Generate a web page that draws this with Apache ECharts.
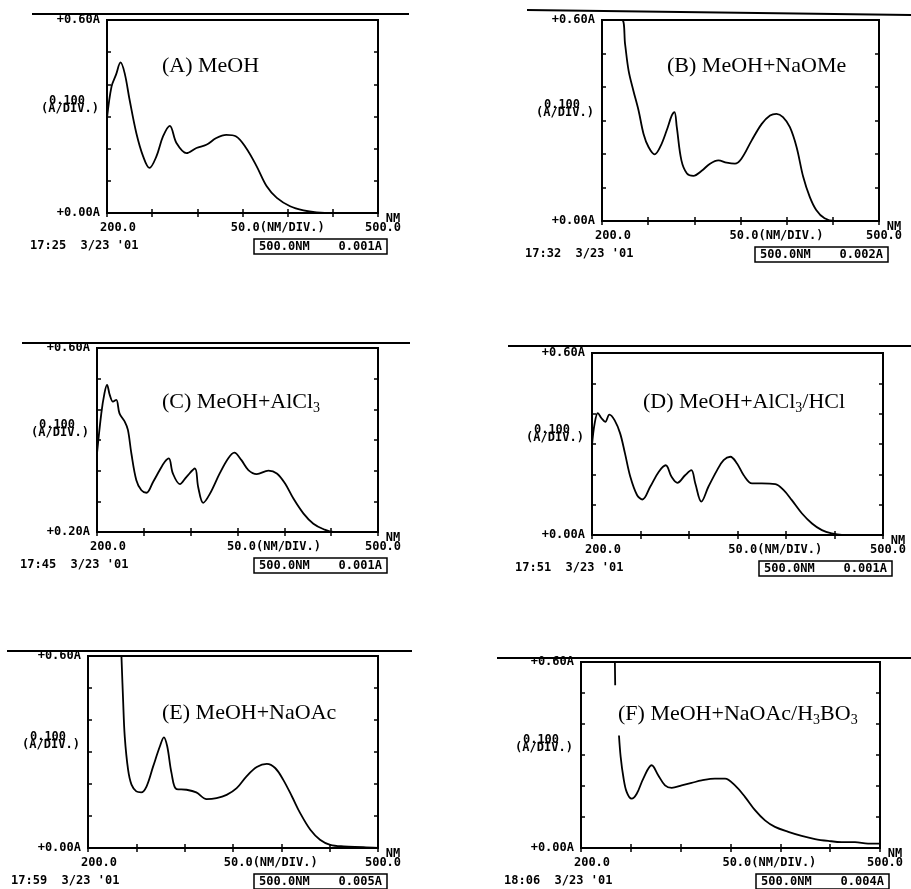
<!DOCTYPE html>
<html>
<head>
<meta charset="utf-8">
<script src="https://cdn.jsdelivr.net/npm/echarts@6/dist/echarts.min.js"></script>
<style>
  html, body { margin: 0; padding: 0; background: #fff; }
  #main { width: 911px; height: 889px; }
</style>
</head>
<body>
<div id="main"></div>
<script>
// wavelength (nm) / absorbance (A)
var wlA = [200, 205, 210, 215, 219.6, 225, 232.5, 240, 247, 254.7, 262, 269.5, 277, 288, 299, 310, 321, 332, 343, 354, 365.7, 376.8, 388, 402.7, 417.5, 432, 451, 500]
var absA = [0.295, 0.393, 0.43, 0.468, 0.434, 0.352, 0.248, 0.176, 0.14, 0.176, 0.238, 0.271, 0.217, 0.186, 0.202, 0.212, 0.233, 0.243, 0.238, 0.202, 0.145, 0.083, 0.047, 0.021, 0.008, 0.002, 0, 0]

var wlB = [200, 221.6, 225, 228.8, 234, 239.6, 245, 250.4, 257, 263, 270, 275.6, 278.5, 281, 286, 292, 299, 308, 317, 326, 335, 344, 351, 362, 373, 382, 389, 396, 403.5, 410.7, 417.9, 425, 432, 441, 452, 500]
var absB = [0.6, 0.6, 0.528, 0.449, 0.389, 0.33, 0.26, 0.221, 0.199, 0.221, 0.27, 0.315, 0.325, 0.28, 0.181, 0.142, 0.135, 0.15, 0.171, 0.181, 0.174, 0.171, 0.186, 0.24, 0.29, 0.315, 0.32, 0.31, 0.28, 0.221, 0.132, 0.072, 0.033, 0.008, 0, 0]

var wlC = [200, 204.6, 208, 210.7, 213.6, 217, 220.6, 224, 229.6, 233, 236.7, 242, 247.4, 252.8, 260, 267, 272.4, 276.7, 281, 288.5, 295.6, 304.5, 308, 313.4, 320.6, 331, 340, 346.6, 354, 361.6, 370.5, 383, 392, 400.8, 409.7, 420.5, 431, 442, 452.6, 500]
var absC = [0.256, 0.387, 0.453, 0.48, 0.447, 0.425, 0.431, 0.387, 0.36, 0.333, 0.256, 0.169, 0.136, 0.128, 0.164, 0.202, 0.229, 0.24, 0.191, 0.156, 0.18, 0.207, 0.147, 0.095, 0.125, 0.191, 0.24, 0.259, 0.235, 0.202, 0.189, 0.2, 0.191, 0.158, 0.109, 0.06, 0.027, 0.009, 0, 0]

var wlD = [200, 202.7, 206, 210, 213.7, 217.9, 223.4, 229, 234, 239.5, 246.4, 252, 260, 268.7, 276, 282, 288, 296, 302.4, 306.5, 312.7, 320, 329, 335.7, 342.6, 349.5, 356.4, 365, 375, 389, 397.6, 406, 416.5, 426.8, 437, 447, 457.7, 500]
var absD = [0.296, 0.367, 0.402, 0.384, 0.373, 0.397, 0.378, 0.335, 0.269, 0.192, 0.132, 0.117, 0.159, 0.208, 0.23, 0.192, 0.172, 0.197, 0.214, 0.17, 0.11, 0.159, 0.214, 0.247, 0.258, 0.236, 0.197, 0.17, 0.17, 0.168, 0.148, 0.115, 0.071, 0.038, 0.016, 0.005, 0, 0]

var wlE = [234.6, 236.3, 238, 241.5, 245, 250, 255, 260.5, 267.4, 274.3, 278.5, 282, 286.4, 291.6, 302, 312, 322.7, 333, 343.4, 353.8, 364, 374.6, 385, 393.6, 402, 411, 419.5, 430, 440, 450.6, 464.4, 485, 500]
var absE = [0.6, 0.463, 0.349, 0.244, 0.198, 0.177, 0.174, 0.192, 0.255, 0.317, 0.346, 0.317, 0.234, 0.184, 0.182, 0.174, 0.153, 0.156, 0.166, 0.187, 0.224, 0.253, 0.263, 0.25, 0.213, 0.161, 0.109, 0.057, 0.026, 0.01, 0.005, 0.003, 0]

var wlF = [234, 234.3, 236, 238.1, 239.8, 242.5, 245.8, 250.8, 255.9, 262.5, 270.9, 277.6, 284.3, 291, 301, 311, 321, 334.4, 344.5, 354.5, 364.5, 374.6, 384.6, 394.6, 408, 421.4, 434.8, 448, 461.5, 474.9, 488, 500]
var absF = [0.6, 0.525, null, 0.363, 0.294, 0.229, 0.181, 0.159, 0.175, 0.224, 0.267, 0.234, 0.202, 0.194, 0.202, 0.21, 0.218, 0.224, 0.224, 0.202, 0.165, 0.122, 0.089, 0.068, 0.052, 0.039, 0.029, 0.023, 0.019, 0.019, 0.014, 0.014]

// labels
var titles = ['(A) MeOH', '(B) MeOH+NaOMe', '(C) MeOH+AlCl{sub|3}', '(D) MeOH+AlCl{sub|3}/HCl', '(E) MeOH+NaOAc', '(F) MeOH+NaOAc/H{sub|3}BO{sub|3}']
var yTopLabels = ['+0.60A', '+0.60A', '+0.60A', '+0.60A', '+0.60A', '+0.60A']
var yBottomLabels = ['+0.00A', '+0.00A', '+0.20A', '+0.00A', '+0.00A', '+0.00A']
var yScaleLabel = ['0.100', '(A/DIV.)']
var xStartLabel = '200.0'
var xEndLabel = '500.0'
var xScaleLabel = '50.0(NM/DIV.)'
var times = ["17:25  3/23 '01", "17:32  3/23 '01", "17:45  3/23 '01", "17:51  3/23 '01", "17:59  3/23 '01", "18:06  3/23 '01"]
var statusLabels = ['500.0NM    0.001A', '500.0NM    0.002A', '500.0NM    0.001A', '500.0NM    0.001A', '500.0NM    0.005A', '500.0NM    0.004A']

var wls = [wlA, wlB, wlC, wlD, wlE, wlF]
var abss = [absA, absB, absC, absD, absE, absF]

// plot boxes [left, top, right, bottom]
var boxes = [
    [107, 20, 378, 213],
    [602, 20, 879, 221],
    [97, 348, 378, 532],
    [592, 353, 883, 535],
    [88, 656, 378, 848],
    [581, 662, 880, 848]
]
// ruled line above each panel
var rules = [
    [32, 14, 409, 14],
    [527, 10, 911, 15],
    [22, 343, 410, 343],
    [508, 346, 911, 346],
    [7, 651, 412, 651],
    [497, 658, 911, 658]
]
var titlePos = [[162, 53], [667, 53], [162, 389], [643, 389], [162, 700], [618, 701]]

var mono = 'bold 12px "DejaVu Sans Mono"'
var tickStyle = { show: true, inside: true, length: 4, lineStyle: { color: '#000', width: 1.5 } }

var grids = [], xAxes = [], yAxes = [], series = [], graphics = [], titleList = []

function txt(x, y, s, align, va) {
    graphics.push({
        type: 'text', x: x, y: y, silent: true,
        style: { text: s, font: mono, fill: '#000', align: align || 'left', verticalAlign: va || 'middle' }
    })
}

boxes.forEach(function (b, i) {
    var L = b[0], T = b[1], R = b[2], B = b[3]
    grids.push({ left: L, top: T, width: R - L, height: B - T, show: true, borderColor: '#000', borderWidth: 2, backgroundColor: 'transparent' })
    ;['bottom', 'top'].forEach(function (p) {
        xAxes.push({ gridIndex: i, type: 'value', position: p, min: 200, max: 500, interval: 50,
            axisLine: { show: false }, axisTick: tickStyle, axisLabel: { show: false }, splitLine: { show: false } })
    })
    ;['left', 'right'].forEach(function (p) {
        yAxes.push({ gridIndex: i, type: 'value', position: p, min: 0, max: 0.6, interval: 0.1,
            axisLine: { show: false }, axisTick: tickStyle, axisLabel: { show: false }, splitLine: { show: false } })
    })
    var data = wls[i].map(function (w, k) { return [w, abss[i][k]] })
    series.push({
        type: 'line', xAxisIndex: i * 2, yAxisIndex: i * 2, data: data,
        showSymbol: false, smooth: 0.35, clip: true, connectNulls: false,
        lineStyle: { color: '#000', width: 1.8 }
    })

    titleList.push({
        text: titles[i], left: titlePos[i][0], top: titlePos[i][1], padding: 0,
        textStyle: {
            fontFamily: 'Liberation Serif', fontSize: 22, fontWeight: 'normal', color: '#000', lineHeight: 26,
            rich: { sub: { fontFamily: 'Liberation Serif', fontSize: 14, lineHeight: 26, verticalAlign: 'bottom', color: '#000' } }
        }
    })

    var r = rules[i]
    graphics.push({ type: 'line', silent: true, shape: { x1: r[0], y1: r[1], x2: r[2], y2: r[3] }, style: { stroke: '#000', lineWidth: 2 } })

    txt(L - 7, T, yTopLabels[i], 'right')
    txt(L - 7, B, yBottomLabels[i], 'right')
    var ym = T + 0.42 * (B - T)
    txt(L - 40, ym, yScaleLabel[0], 'center')
    txt(L - 37, ym + 8, yScaleLabel[1], 'center')
    txt(L + 11, B + 15, xStartLabel, 'center')
    txt(L + 0.63 * (R - L), B + 15, xScaleLabel, 'center')
    txt(R + 5, B + 15, xEndLabel, 'center')
    txt(R + 15, B + 6, 'NM', 'center')
    txt(L - 77, B + 33, times[i], 'left')

    graphics.push({ type: 'rect', silent: true, shape: { x: R - 124, y: B + 26, width: 133, height: 15 },
        style: { fill: 'none', stroke: '#000', lineWidth: 1.5 } })
    txt(R - 57.5, B + 33.5, statusLabels[i], 'center')
})

var myChart = echarts.init(document.querySelector('#main'))
var option = {
    backgroundColor: '#fff',
    animation: false,
    title: titleList,
    grid: grids,
    xAxis: xAxes,
    yAxis: yAxes,
    series: series,
    graphic: graphics
}
myChart.setOption(option)
window.addEventListener('resize', function () {
    myChart.resize()
})
</script>
</body>
</html>
